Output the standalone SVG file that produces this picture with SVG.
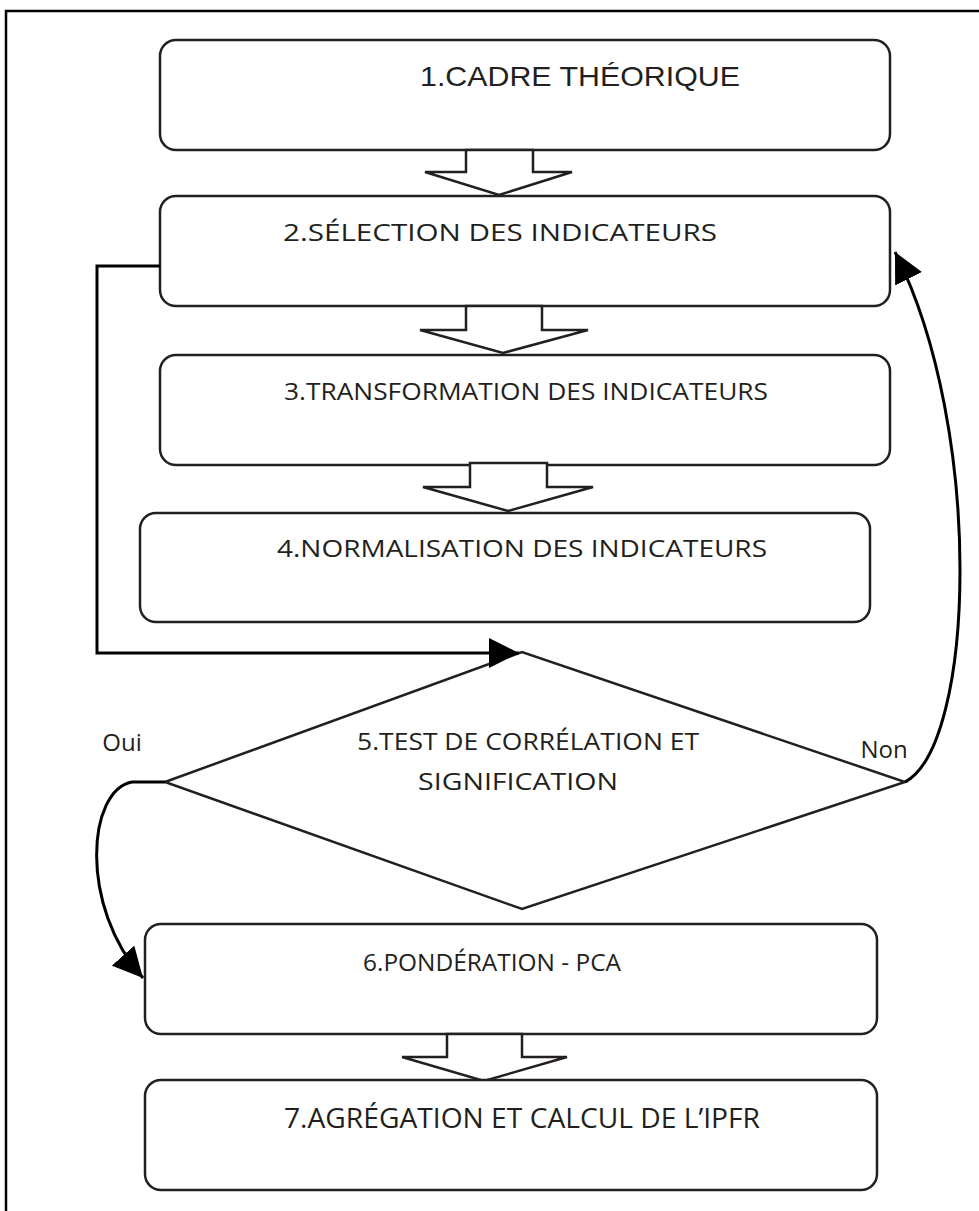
<svg xmlns="http://www.w3.org/2000/svg" width="979" height="1211" viewBox="0 0 979 1211">
<style>
.box{fill:#fff;stroke:#231f20;stroke-width:2.5}
.blk{fill:#fff;stroke:#231f20;stroke-width:2.5;stroke-linejoin:miter}
.t{font-family:"Open Sans","Noto Sans","Liberation Sans",sans-serif;font-size:23px;font-weight:400;fill:#231f20;text-anchor:middle}
.tn{font-family:"Liberation Sans Narrow","Liberation Sans",sans-serif;font-size:28px;fill:#231f20;text-anchor:middle}
.con{fill:none;stroke:#000;stroke-width:3}
</style>
<defs>
<marker id="ah" markerUnits="userSpaceOnUse" markerWidth="32" markerHeight="30" refX="30" refY="15" orient="auto">
<path d="M0,0 L30,15 L0,30 Z" fill="#000"/>
</marker>
</defs>
<rect width="979" height="1211" fill="#fff"/>
<path d="M6,1211 V11 H979" fill="none" stroke="#000" stroke-width="2.5"/>

<g id="n1"><rect class="box" x="160" y="40" width="730" height="110" rx="16"/><text class="tn" x="580" y="86" textLength="320" lengthAdjust="spacingAndGlyphs">1.CADRE THÉORIQUE</text></g>
<g id="a1"><polygon class="blk" points="466,150 466,172 425,172 499,195 572,172 533,172 533,150"/></g>
<g id="n2"><rect class="box" x="160" y="196" width="730" height="110" rx="16"/><text class="t" x="500" y="241" textLength="434" lengthAdjust="spacingAndGlyphs">2.SÉLECTION DES INDICATEURS</text></g>
<g id="a2"><polygon class="blk" points="466,306 466,330 420,330 503,353 588,330 542,330 542,306"/></g>
<g id="n3"><rect class="box" x="160" y="355" width="730" height="110" rx="16"/><text class="t" x="526" y="400" textLength="484" lengthAdjust="spacingAndGlyphs">3.TRANSFORMATION DES INDICATEURS</text></g>
<g id="a3"><polygon class="blk" points="470,463 470,487 423,487 508,511 593,487 547,487 547,463"/></g>
<g id="n4"><rect class="box" x="140" y="513" width="730" height="109" rx="16"/><text class="t" x="522" y="557" textLength="490" lengthAdjust="spacingAndGlyphs">4.NORMALISATION DES INDICATEURS</text></g>
<g id="n5"><polygon class="box" points="165,782 522,652 905,782 522,909"/><text class="t" x="528" y="750" textLength="342" lengthAdjust="spacingAndGlyphs">5.TEST DE CORRÉLATION ET</text><text class="t" x="518" y="790" textLength="200" lengthAdjust="spacingAndGlyphs">SIGNIFICATION</text></g>
<g id="n6"><rect class="box" x="145" y="924" width="732" height="110" rx="16"/><text class="t" x="492" y="971" style="font-size:24px" textLength="258" lengthAdjust="spacingAndGlyphs">6.PONDÉRATION - PCA</text></g>
<g id="a6"><polygon class="blk" points="447,1034 447,1057 402,1057 484,1081 567,1057 522,1057 522,1034"/></g>
<g id="n7"><rect class="box" x="145" y="1080" width="732" height="110" rx="16"/><text class="t" x="522" y="1128" style="font-size:28px" textLength="476" lengthAdjust="spacingAndGlyphs">7.AGRÉGATION ET CALCUL DE L’IPFR</text></g>

<g id="connectors">
<path class="con" d="M160,266 H97 V653 H519" marker-end="url(#ah)"/>
<path class="con" d="M905,782 C975,745 985,430 895,252" marker-end="url(#ah)"/>
<path class="con" d="M165,782 H132 C88,790 78,905 143,978" marker-end="url(#ah)"/>
<text class="t" x="122" y="751" style="font-size:24px">Oui</text>
<text class="t" x="884" y="758" style="font-size:24px">Non</text>
</g>
</svg>
